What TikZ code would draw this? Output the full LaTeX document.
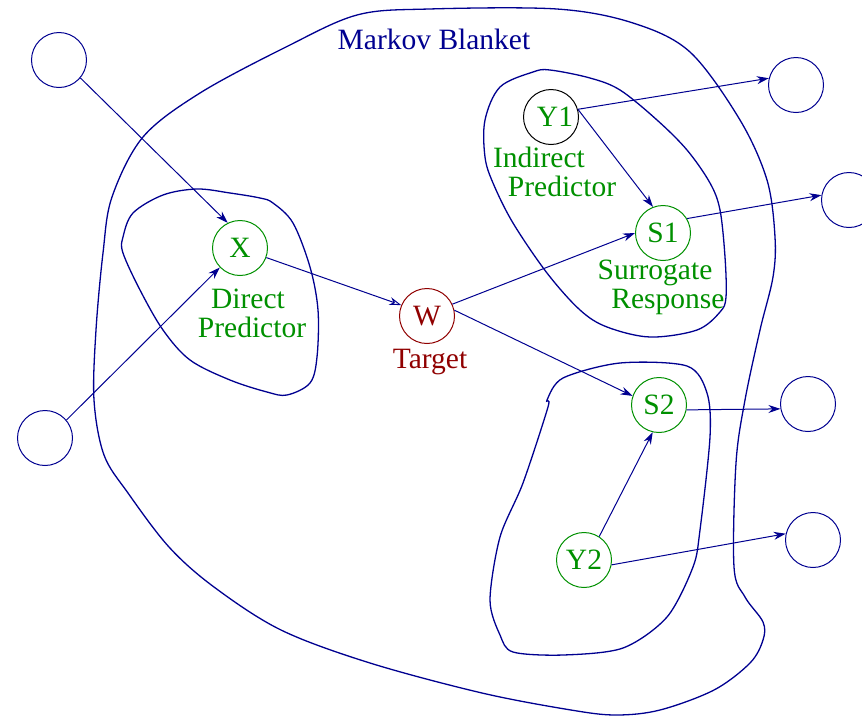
\documentclass[tikz,border=0pt]{standalone}
\usepackage{fontspec}
\setmainfont{Liberation Serif}
\usetikzlibrary{arrows.meta}
\definecolor{navy}{HTML}{000090}
\definecolor{leaf}{HTML}{009000}
\definecolor{brick}{HTML}{900000}
\newcommand\diagfont{\fontsize{29.5}{34}\selectfont}
\tikzset{
  blob/.style={draw=navy, line width=1.3pt},
  emptyc/.style={circle, draw=navy, line width=1pt, minimum size=55pt, inner sep=0pt},
  varc/.style={circle, line width=1pt, minimum size=55pt, inner sep=0pt, font=\diagfont},
  edge/.style={draw=navy, line width=1pt, -{Stealth[length=12pt,width=8pt]}},
  openedge/.style={draw=navy, line width=1pt, -{Stealth[open,length=12pt,width=8pt]}},
  txt/.style={anchor=base, font=\diagfont, inner sep=0pt}
}
\begin{document}
\begin{tikzpicture}[x=1pt, y=-1pt]
\useasboundingbox (0,0) rectangle (862,716);

% Markov blanket outline
\draw[blob] plot[smooth cycle, tension=0.55] coordinates {
  (96,330) (103,253) (112,197) (143,137) (200,93) (286,47) (357,15)
  (429,9) (557,9) (633,23) (690,52) (740,120) (767,180) (775,237) (773,277)
  (760,330) (745,400) (736,463) (734,567) (745,597) (763,622) (763,640)
  (750,663) (714,690) (660,710) (616,715) (571,710) (482,693) (370,663)
  (281,630) (214,587) (169,547) (128,493) (104,455) (94,400)};

% direct predictor region
\draw[blob] plot[smooth cycle, tension=0.55] coordinates {
  (123,237) (133,213) (163,195) (197,189) (230,193) (260,198) (273,203)
  (293,223) (310,267) (318,310) (317,357) (310,383) (287,395) (267,392)
  (230,380) (190,360) (163,330) (140,290) (123,253)};

% indirect predictor / surrogate region
\draw[blob] plot[smooth cycle, tension=0.55] coordinates {
  (500,87) (533,72) (550,70) (590,78) (620,90) (657,120) (687,150) (710,183)
  (720,210) (725,257) (726,297) (720,312) (697,330) (650,337) (607,327)
  (580,310) (547,273) (513,223) (493,183) (485,157) (485,120)};

% second surrogate region
\draw[blob] plot[smooth cycle, tension=0.5] coordinates {
  (687,366) (620,363) (563,378) (547,400) (548,407) (523,483) (500,537)
  (490,600) (500,635) (513,652) (563,655) (623,648) (667,617) (693,567)
  (700,530) (710,437) (707,393)};

% variables
\node[emptyc] (tl) at (59,60) {};
\node[emptyc] (bl) at (45,438) {};
\node[varc, draw=leaf, text=leaf] (X) at (240,248) {X};
\node[varc, draw=brick, text=brick] (W) at (427,316) {W};
\node[varc, draw=black, text=leaf] (Y1) at (551,117) {\hspace{8pt}Y1};
\node[varc, draw=leaf, text=leaf] (S1) at (663,233) {S1};
\node[varc, draw=leaf, text=leaf] (S2) at (659,405) {S2};
\node[varc, draw=leaf, text=leaf] (Y2) at (584,560) {Y2};
\node[emptyc] (r1) at (796,85) {};
\node[emptyc] (r2) at (849,200) {};
\node[emptyc] (r3) at (808,404) {};
\node[emptyc] (r4) at (813,540) {};

% labels
\node[txt, text=navy] (mb) at (434,49) {Markov Blanket};
\node[txt, text=leaf] (dp1) at (248,308) {Direct};
\node[txt, text=leaf] (dp2) at (252,337) {Predictor};
\node[txt, text=brick] (tg) at (430,368) {Target};
\node[txt, text=leaf] (ip1) at (539,167) {Indirect};
\node[txt, text=leaf] (ip2) at (562,196) {Predictor};
\node[txt, text=leaf] (sr1) at (655,279) {Surrogate};
\node[txt, text=leaf] (sr2) at (668,308) {Response};

% connectors
\draw[edge] (tl.-40) -- (X.116);
\draw[edge] (bl.40) -- (X.224);
\draw[openedge] (X.-20) -- (W.157);
\draw[edge] (W.25) -- (S1.180);
\draw[edge] (W.12) -- (S2.161);
\draw[edge] (Y1.16) -- (S1.111);
\draw[edge] (Y1.16) -- (r1.166);
\draw[edge] (S1.31) -- (r2.170);
\draw[edge] (S2.-10) -- (r3.190);
\draw[edge] (Y2.57) -- (S2.257);
\draw[edge] (Y2.-10) -- (r4.167);
\end{tikzpicture}
\end{document}
